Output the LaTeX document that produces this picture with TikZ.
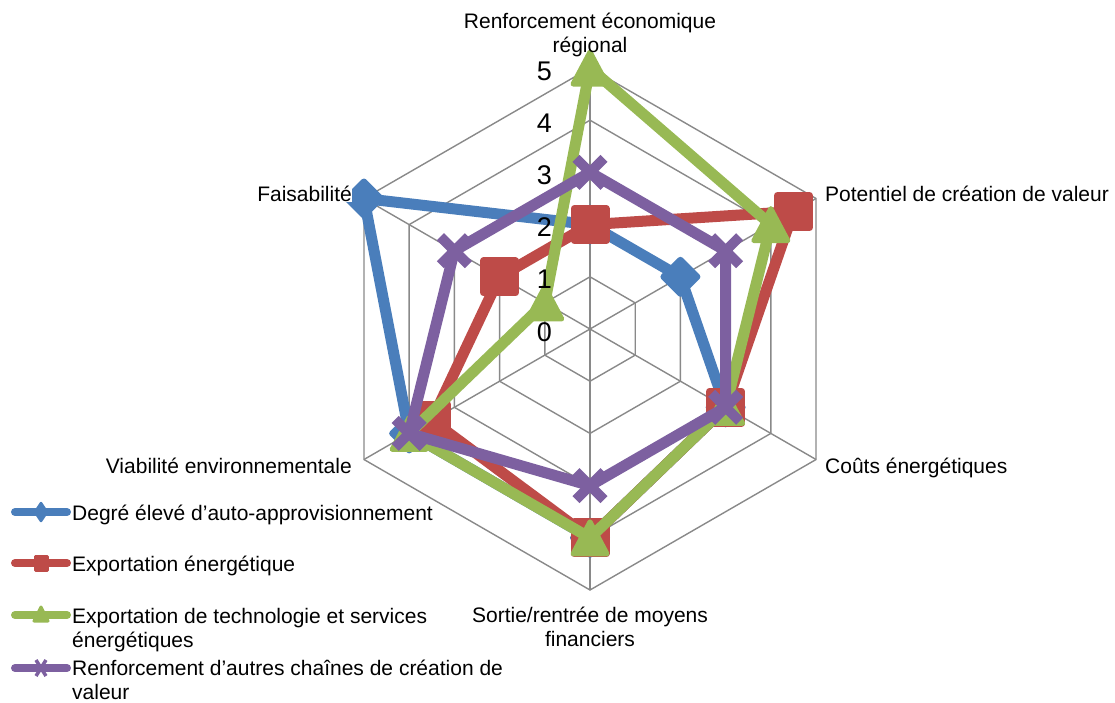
\documentclass[tikz,border=0pt]{standalone}
\usepackage{fontspec}
\setmainfont{Liberation Sans}
\definecolor{sblue}{HTML}{4A7EBB}
\definecolor{sred}{HTML}{BE4B48}
\definecolor{sgreen}{HTML}{98B954}
\definecolor{spurple}{HTML}{7D60A0}
\definecolor{gridgray}{HTML}{898989}
\tikzset{
  gridline/.style={draw=gridgray, line width=1.4, line join=miter},
  serie/.style={line width=11, line join=round},
  lab/.style={inner sep=0, font=\fontsize{21}{24}\selectfont},
  num/.style={inner sep=0, font=\fontsize{27}{30}\selectfont, anchor=base east},
  legline/.style={line width=8, line cap=round},
  mdia/.pic={\filldraw[line width=6, line join=round] (0,17)--(17,0)--(0,-17)--(-17,0)--cycle;},
  msq/.pic={\filldraw[line width=7, line join=round] (-16,-16) rectangle (16,16);},
  mtri/.pic={\filldraw[line width=5, line join=round] (0,16)--(17,-16)--(-17,-16)--cycle;},
  mx/.pic={\draw[line width=10] (-14,-14)--(14,14) (-14,14)--(14,-14);},
  sdia/.pic={\filldraw[line width=2.5, line join=round] (0,9)--(6,0)--(0,-9)--(-6,0)--cycle;},
  ssq/.pic={\filldraw[line width=3, line join=round] (-6,-7) rectangle (6,7);},
  stri/.pic={\filldraw[line width=3, line join=round] (0,8)--(7,-6)--(-7,-6)--cycle;},
  sx/.pic={\draw[line width=3.5] (-5,-8)--(5,8) (-5,8)--(5,-8);},
}
\newcommand{\uu}{52.2}
\begin{document}
\begin{tikzpicture}[x=1pt,y=1pt]
\useasboundingbox (0,0) rectangle (1115,-702);
\begin{scope}[shift={(590,-329)}]
  % grid
  \foreach \r in {1,...,5}
    \draw[gridline] (90:\r*\uu) -- (30:\r*\uu) -- (-30:\r*\uu) -- (-90:\r*\uu) -- (210:\r*\uu) -- (150:\r*\uu) -- cycle;
  \coordinate (ctr) at (0,0);
  \foreach \a [count=\i] in {90,30,-30,-90,210,150} {
    \coordinate (ax\i) at (\a:5*\uu);
    \draw[gridline] (ctr) -- (ax\i);
  }
  % series coordinates
  \foreach \v/\a [count=\i] in {2/90,2/30,3/-30,4/-90,4/210,5/150} \coordinate (b\i) at (\a:\v*\uu);
  \foreach \v/\a [count=\i] in {2/90,4.5/30,3/-30,4/-90,3.5/210,2/150} \coordinate (r\i) at (\a:\v*\uu);
  \foreach \v/\a [count=\i] in {5/90,4/30,3/-30,4/-90,4/210,1/150} \coordinate (g\i) at (\a:\v*\uu);
  \foreach \v/\a [count=\i] in {3/90,3/30,3/-30,3/-90,4/210,3/150} \coordinate (p\i) at (\a:\v*\uu);
\end{scope}
% series
\draw[serie, sblue] (b1) -- (b2) -- (b3) -- (b4) -- (b5) -- (b6) -- cycle;
\foreach \i in {1,...,6} \pic[sblue] at (b\i) {mdia};
\draw[serie, sred] (r1) -- (r2) -- (r3) -- (r4) -- (r5) -- (r6) -- cycle;
\foreach \i in {1,...,6} \pic[sred] at (r\i) {msq};
\draw[serie, sgreen] (g1) -- (g2) -- (g3) -- (g4) -- (g5) -- (g6) -- cycle;
\foreach \i in {1,...,6} \pic[sgreen] at (g\i) {mtri};
\draw[serie, spurple] (p1) -- (p2) -- (p3) -- (p4) -- (p5) -- (p6) -- cycle;
\foreach \i in {1,...,6} \pic[spurple] at (p\i) {mx};
% numbers
\foreach \v in {0,...,5}
  \node[num] (n\v) at (552,-329+\v*\uu-12) {\v};
% axis labels
\node[lab, align=center, anchor=base] (labTop) at (590,-52) {Renforcement économique\\régional};
\node[lab, anchor=base west] (labPot) at (825,-201.5) {Potentiel de création de valeur};
\node[lab, anchor=base west] (labCouts) at (825,-473) {Coûts énergétiques};
\node[lab, align=center, anchor=base] (labSortie) at (590,-646) {Sortie/rentrée de moyens\\financiers};
\node[lab, anchor=base east] (labViab) at (352,-473) {Viabilité environnementale};
\node[lab, anchor=base east, fill=white] (labFais) at (352,-201.5) {Faisabilité};
% legend
\coordinate (la1) at (15,-512); \coordinate (lb1) at (67,-512);
\coordinate (la2) at (15,-563); \coordinate (lb2) at (67,-563);
\coordinate (la3) at (15,-615); \coordinate (lb3) at (67,-615);
\coordinate (la4) at (15,-668); \coordinate (lb4) at (67,-668);
\draw[legline, sblue] (la1) -- (lb1); \pic[sblue] at (41,-512) {sdia};
\draw[legline, sred] (la2) -- (lb2); \pic[sred] at (41,-563) {ssq};
\draw[legline, sgreen] (la3) -- (lb3); \pic[sgreen] at (41,-615) {stri};
\draw[legline, spurple] (la4) -- (lb4); \pic[spurple] at (41,-668) {sx};
\node[lab, anchor=base west] (leg1) at (72,-520) {Degré élevé d’auto-approvisionnement};
\node[lab, anchor=base west] (leg2) at (72,-571) {Exportation énergétique};
\node[lab, anchor=base west, align=left] (leg3) at (72,-647) {Exportation de technologie et services\\énergétiques};
\node[lab, anchor=base west, align=left] (leg4) at (72,-699) {Renforcement d’autres chaînes de création de\\valeur};
\end{tikzpicture}
\end{document}
